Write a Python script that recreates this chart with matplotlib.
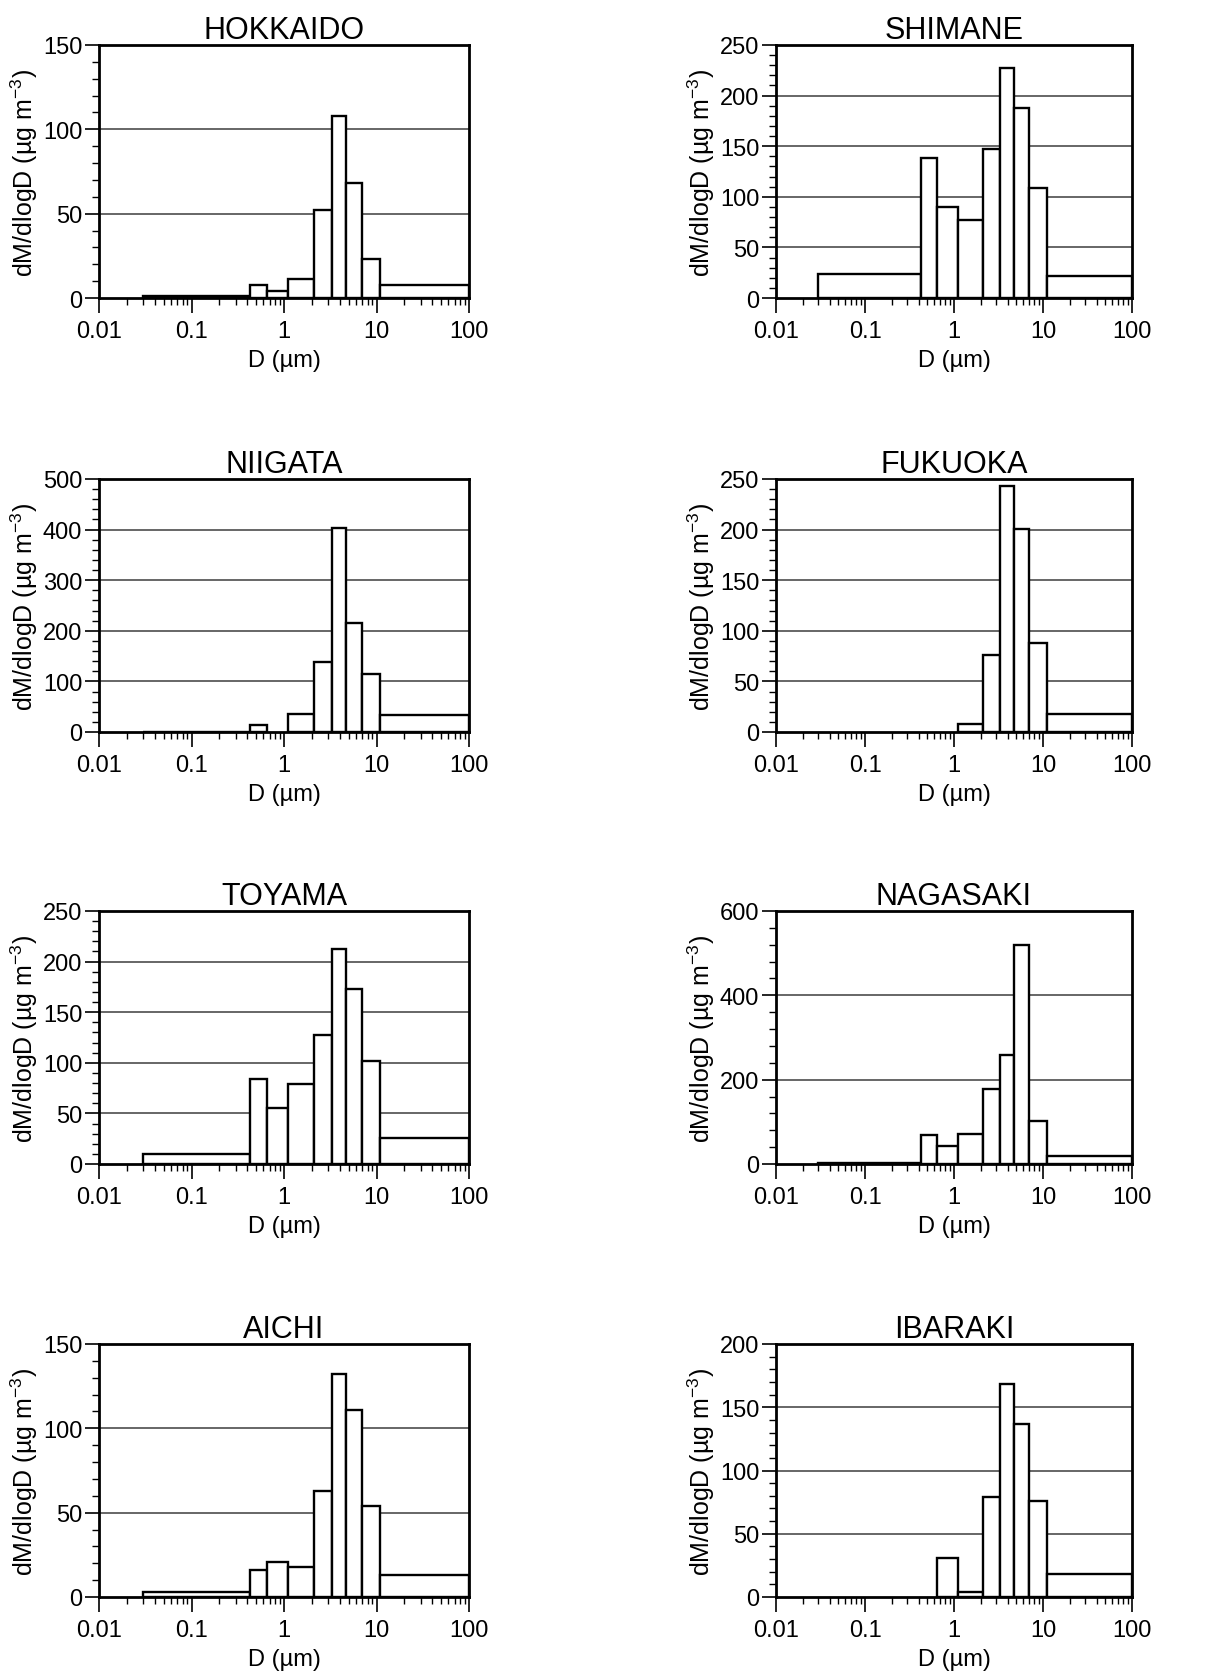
import matplotlib
matplotlib.use('Agg')
import matplotlib.pyplot as plt
from matplotlib.ticker import MultipleLocator, LogLocator, NullFormatter, FixedLocator
import numpy as np

########## Data ##########
# impactor stage boundaries (um)
bin_edges = [0.03, 0.43, 0.65, 1.1, 2.1, 3.3, 4.7, 7.0, 11.0, 100.0]

sites = ['HOKKAIDO', 'SHIMANE', 'NIIGATA', 'FUKUOKA',
         'TOYAMA', 'NAGASAKI', 'AICHI', 'IBARAKI']

hokkaido = [1, 8, 4, 11, 52, 108, 68, 23, 8]
shimane = [24, 138, 90, 77, 147, 227, 188, 109, 22]
niigata = [0.5, 13, 0, 35, 139, 404, 215, 114, 33]
fukuoka = [0, 0, 0, 8, 76, 243, 201, 88, 18]
toyama = [10, 84, 55, 79, 127, 212, 173, 102, 26]
nagasaki = [3, 69, 42, 71, 178, 259, 520, 101, 20]
aichi = [3, 16, 21, 18, 63, 132, 111, 54, 13]
ibaraki = [0, 0, 31, 4, 79, 168, 137, 76, 18]

# y-axis max, major step, minor step for each panel
y_max = [150, 250, 500, 250, 250, 600, 150, 200]
y_major = [50, 50, 100, 50, 50, 200, 50, 50]
y_minor = [10, 10, 20, 10, 10, 40, 10, 10]
########## Data end ##########

values = [hokkaido, shimane, niigata, fukuoka, toyama, nagasaki, aichi, ibaraki]

plt.rcParams['font.family'] = ['Liberation Sans', 'DejaVu Sans']
plt.rcParams['mathtext.fontset'] = 'custom'
plt.rcParams['mathtext.rm'] = 'Liberation Sans'

W, H = 1224, 1681
fig = plt.figure(figsize=(W / 100, H / 100), dpi=100)

# panel placement in pixels (left, right) per column, top per row
col_x = [(99, 469), (776, 1132)]
row_top = [46, 480, 912, 1345]
ax_h = 253

edges = np.array(bin_edges)
lefts = edges[:-1]
widths = np.diff(edges)

for k, name in enumerate(sites):
    r, c = divmod(k, 2)
    x0, x1 = col_x[c]
    top = row_top[r]
    ax = fig.add_axes([x0 / W, 1 - (top + ax_h) / H, (x1 - x0) / W, ax_h / H])

    # grid lines at major ticks (drawn behind the bars)
    for yv in np.arange(y_major[k], y_max[k], y_major[k]):
        ax.axhline(yv, color='#5a5a5a', lw=1.3, zorder=0)

    # zero-height bars are skipped so no stray outlines sit on the baseline
    h = np.array(values[k], dtype=float)
    keep = h > 0
    ax.bar(lefts[keep], h[keep], width=widths[keep], align='edge',
           facecolor='white', edgecolor='black', linewidth=1.7, zorder=2)

    ax.set_xscale('log')
    ax.set_xlim(0.01, 100)
    ax.set_ylim(0, y_max[k])
    ax.xaxis.set_major_locator(FixedLocator([0.01, 0.1, 1, 10, 100]))
    ax.set_xticklabels(['0.01', '0.1', '1', '10', '100'])
    ax.xaxis.set_minor_locator(LogLocator(base=10, subs=np.arange(2, 10), numticks=20))
    ax.xaxis.set_minor_formatter(NullFormatter())
    ax.yaxis.set_major_locator(MultipleLocator(y_major[k]))
    ax.yaxis.set_minor_locator(MultipleLocator(y_minor[k]))

    ax.tick_params(axis='x', which='major', direction='out', length=11, width=1.2,
                   labelsize=17, pad=5)
    ax.tick_params(axis='x', which='minor', direction='out', length=5, width=1.0)
    ax.tick_params(axis='y', which='major', direction='out', length=10, width=1.2,
                   labelsize=17, pad=2)
    ax.tick_params(axis='y', which='minor', direction='out', length=5, width=1.0)

    for s in ax.spines.values():
        s.set_linewidth(2.0)
        s.set_zorder(3)

    ax.set_title(name, fontsize=22, pad=5)
    ax.set_xlabel(u'D (\u00b5m)', fontsize=17, labelpad=5)
    ax.set_ylabel(u'dM/dlogD (\u00b5g m$^{\\mathregular{-3}}$)', fontsize=18, labelpad=2)

plt.savefig('out.png', dpi=100)
